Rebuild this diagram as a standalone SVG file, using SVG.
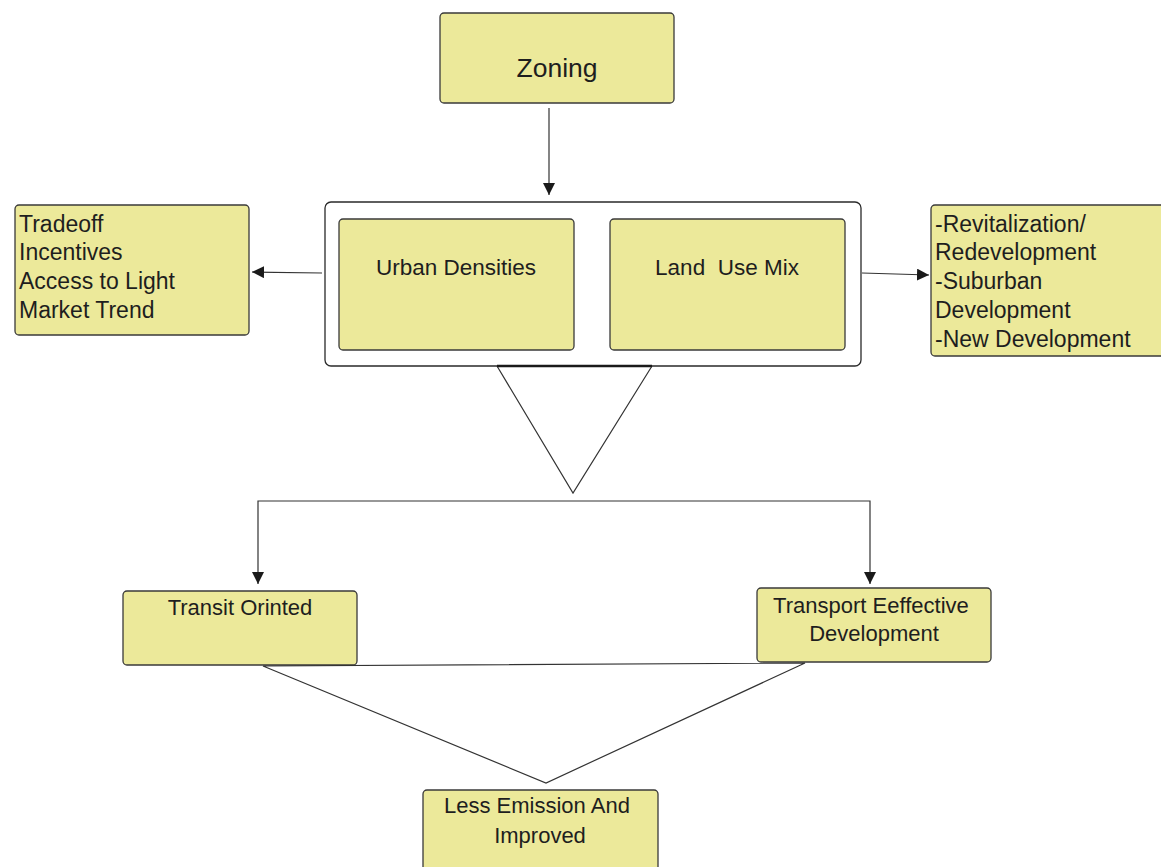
<svg xmlns="http://www.w3.org/2000/svg" width="1161" height="867" viewBox="0 0 1161 867">
  <style>
    .box { fill: #ECE99A; stroke: #3a3a3a; stroke-width: 1.3; }
    .frame { fill: #ffffff; stroke: #2a2a2a; stroke-width: 1.3; }
    .lbl { font-family: "Liberation Sans", Arial, sans-serif; fill: #1e1e1e; }
    .c { text-anchor: middle; }
    .wire { fill: none; stroke: #333333; stroke-width: 1.2; }
  </style>
  <defs>
    <marker id="arrow" viewBox="0 0 10 10" refX="10" refY="5" markerWidth="12" markerHeight="12" markerUnits="userSpaceOnUse" orient="auto-start-reverse">
      <path d="M0,0 L10,5 L0,10 Z" fill="#1a1a1a"/>
    </marker>
  </defs>

  <!-- top node -->
  <g id="zoning">
    <rect class="box" x="440" y="13" width="234" height="90" rx="4"/>
    <text class="lbl c" x="557" y="77" font-size="26.5">Zoning</text>
  </g>

  <!-- container holding the two factor boxes -->
  <g id="factors">
    <rect class="frame" x="325" y="202" width="536" height="164" rx="6"/>
  </g>
  <g id="urban-densities">
    <rect class="box" x="339" y="219" width="235" height="131" rx="4"/>
    <text class="lbl c" x="456" y="275" font-size="22.5">Urban Densities</text>
  </g>
  <g id="land-use-mix">
    <rect class="box" x="610" y="219" width="235" height="131" rx="4"/>
    <text class="lbl c" x="727" y="275" font-size="22.5" xml:space="preserve">Land  Use Mix</text>
  </g>

  <!-- side notes -->
  <g id="considerations">
    <rect class="box" x="15" y="205" width="234" height="130" rx="4"/>
    <text class="lbl" font-size="23">
      <tspan x="19" y="232">Tradeoff</tspan>
      <tspan x="19" y="260">Incentives</tspan>
      <tspan x="19" y="289">Access to Light</tspan>
      <tspan x="19" y="318">Market Trend</tspan>
    </text>
  </g>
  <g id="development-types">
    <rect class="box" x="931" y="205" width="240" height="151" rx="4"/>
    <text class="lbl" font-size="23">
      <tspan x="935" y="232">-Revitalization/</tspan>
      <tspan x="935" y="260">Redevelopment</tspan>
      <tspan x="935" y="289">-Suburban</tspan>
      <tspan x="935" y="318">Development</tspan>
      <tspan x="935" y="347">-New Development</tspan>
    </text>
  </g>

  <!-- outcomes -->
  <g id="transit-oriented">
    <rect class="box" x="123" y="591" width="234" height="74" rx="4"/>
    <text class="lbl c" x="240" y="615" font-size="22">Transit Orinted</text>
  </g>
  <g id="transport-effective">
    <rect class="box" x="757" y="588" width="234" height="74" rx="4"/>
    <text class="lbl c" font-size="22">
      <tspan x="874" y="613">Transport Eeffective</tspan>
      <tspan x="874" y="641">Development</tspan>
    </text>
  </g>
  <g id="less-emission">
    <rect class="box" x="423" y="790" width="235" height="90" rx="4"/>
    <text class="lbl c" font-size="22">
      <tspan x="540" y="813">Less Emission And</tspan>
      <tspan x="540" y="843">Improved</tspan>
    </text>
  </g>

  <!-- connectors -->
  <g id="connectors">
    <line class="wire" x1="549" y1="108" x2="549" y2="195" marker-end="url(#arrow)"/>
    <line class="wire" x1="322" y1="273" x2="252" y2="272" marker-end="url(#arrow)"/>
    <line class="wire" x1="862" y1="273" x2="929" y2="275" marker-end="url(#arrow)"/>
    <!-- funnel below the factor container -->
    <polyline class="wire" points="497,366 573,493 652,366"/>
    <line x1="497" y1="366" x2="652" y2="366" stroke="#1a1a1a" stroke-width="2.5"/>
    <!-- split to the two outcomes -->
    <polyline class="wire" points="258,584 258,501 870,501 870,584" marker-start="url(#arrow)" marker-end="url(#arrow)"/>
    <!-- converging funnel to the final result -->
    <polygon class="wire" points="263,666 805,663 546,783"/>
  </g>
</svg>
